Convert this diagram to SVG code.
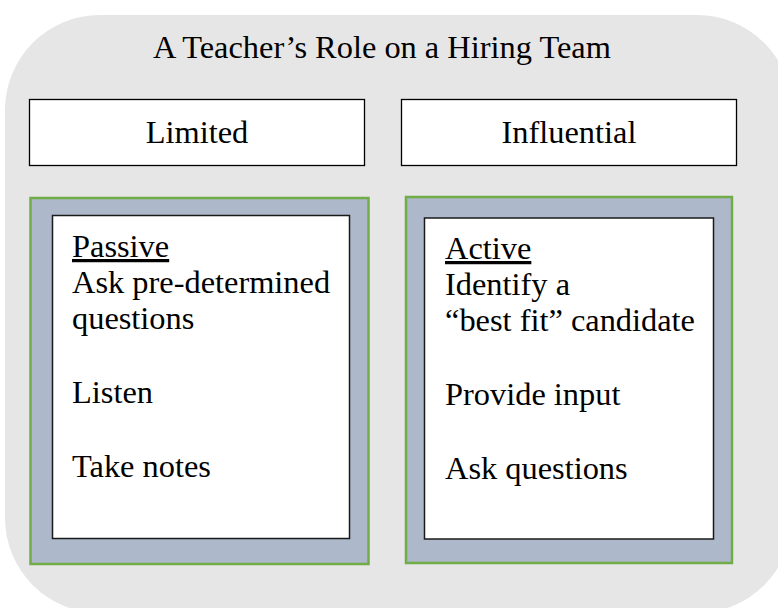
<svg xmlns="http://www.w3.org/2000/svg" width="778" height="608" viewBox="0 0 778 608">
<style>
  text { font-family: "Liberation Serif", "Times New Roman", serif; fill: #000; }
  .t { font-size: 32.4px; }
  .hdr { fill: #fff; stroke: #000; stroke-width: 1.3; }
  .frame { fill: #ADB9CA; stroke: #70AD47; stroke-width: 2.5; }
  .inner { fill: #fff; stroke: #1a1a1a; stroke-width: 1.5; }
  .u { text-decoration: underline; }
</style>
<rect id="background" x="5" y="15" width="787" height="598" rx="95" ry="95" fill="#E6E6E6"/>
<g id="title">
  <text class="t" x="382" y="58" text-anchor="middle">A Teacher’s Role on a Hiring Team</text>
</g>
<g id="limited">
  <rect class="hdr" x="29.5" y="99.5" width="335" height="66"/>
  <text class="t" x="197" y="143" text-anchor="middle">Limited</text>
</g>
<g id="influential">
  <rect class="hdr" x="401.5" y="99.5" width="335" height="66"/>
  <text class="t" x="569" y="143" text-anchor="middle">Influential</text>
</g>
<g id="passive">
  <rect class="frame" x="30.5" y="198" width="338" height="366"/>
  <rect class="inner" x="52.5" y="215.5" width="297" height="323"/>
  <text class="t" x="72" y="257"><tspan class="u">Passive</tspan></text>
  <text class="t" x="72" y="293">Ask pre-determined</text>
  <text class="t" x="72" y="329">questions</text>
  <text class="t" x="72" y="403">Listen</text>
  <text class="t" x="72" y="477">Take notes</text>
</g>
<g id="active">
  <rect class="frame" x="406" y="197" width="326" height="366"/>
  <rect class="inner" x="424.5" y="218" width="289" height="321"/>
  <text class="t" x="445" y="259"><tspan class="u">Active</tspan></text>
  <text class="t" x="445" y="295">Identify a</text>
  <text class="t" x="445" y="331">“best fit” candidate</text>
  <text class="t" x="445" y="405">Provide input</text>
  <text class="t" x="445" y="479">Ask questions</text>
</g>
<g id="connectors"/>
</svg>
